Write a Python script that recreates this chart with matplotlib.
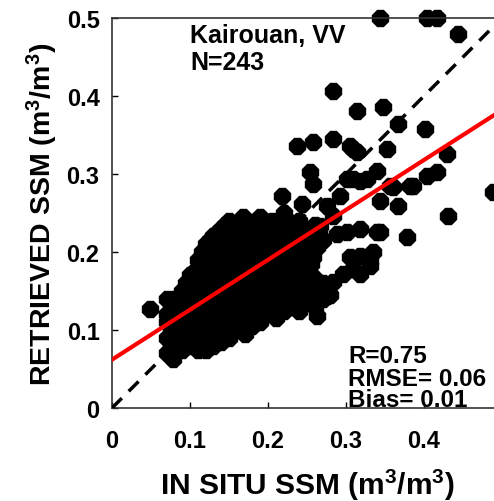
import matplotlib
matplotlib.use("Agg")
import matplotlib.pyplot as plt
import numpy as np

plt.rcParams['font.family'] = ['Liberation Sans', 'DejaVu Sans']
plt.rcParams['font.weight'] = 'bold'
plt.rcParams['mathtext.fontset'] = 'custom'
plt.rcParams['mathtext.rm'] = 'Liberation Sans:bold'
plt.rcParams['mathtext.default'] = 'rm'

# scattered points away from the main cloud (in situ, retrieved)
outer_x = [0.344, 0.404, 0.417, 0.444, 0.283, 0.314, 0.347, 0.367, 0.401,
           0.237, 0.258, 0.283, 0.305, 0.314, 0.353, 0.429, 0.488, 0.309,
           0.254, 0.258, 0.218, 0.244, 0.276, 0.292, 0.309, 0.327, 0.340,
           0.356, 0.386, 0.404, 0.417, 0.344, 0.367, 0.431, 0.378, 0.344,
           0.318, 0.301, 0.168, 0.186, 0.219, 0.138, 0.122, 0.267, 0.283,
           0.318, 0.335, 0.049, 0.078, 0.263, 0.276, 0.283, 0.309, 0.331,
           0.224, 0.186, 0.340, 0.331, 0.305, 0.318, 0.296, 0.254, 0.258,
           0.263, 0.288, 0.215, 0.232, 0.318, 0.301, 0.382, 0.360]
outer_y = [0.500, 0.500, 0.500, 0.479, 0.406, 0.381, 0.386, 0.364, 0.358,
           0.336, 0.341, 0.345, 0.336, 0.328, 0.332, 0.326, 0.277, 0.332,
           0.303, 0.287, 0.272, 0.262, 0.259, 0.272, 0.294, 0.294, 0.304,
           0.285, 0.285, 0.297, 0.303, 0.265, 0.259, 0.246, 0.219, 0.226,
           0.229, 0.226, 0.245, 0.238, 0.233, 0.226, 0.208, 0.233, 0.246,
           0.195, 0.200, 0.127, 0.063, 0.118, 0.144, 0.162, 0.178, 0.182,
           0.131, 0.114, 0.226, 0.188, 0.194, 0.172, 0.172, 0.172, 0.194,
           0.206, 0.223, 0.236, 0.236, 0.291, 0.294, 0.285, 0.283]

# main cloud, column by column: in situ value -> retrieved values
cloud = {
    0.070: [0.07, 0.09, 0.11, 0.12, 0.14],
    0.075: [0.08, 0.10, 0.125],
    0.080: [0.08, 0.10, 0.12, 0.13, 0.14],
    0.085: [0.075, 0.095, 0.115, 0.135],
    0.090: [0.075, 0.09, 0.11, 0.13, 0.15],
    0.095: [0.085, 0.105, 0.125, 0.145, 0.16],
    0.100: [0.08, 0.10, 0.12, 0.14, 0.16, 0.17],
    0.105: [0.09, 0.11, 0.13, 0.15, 0.175],
    0.110: [0.075, 0.10, 0.115, 0.13, 0.15, 0.17, 0.19],
    0.115: [0.085, 0.105, 0.125, 0.14, 0.16, 0.18, 0.20],
    0.120: [0.075, 0.09, 0.11, 0.13, 0.14, 0.16, 0.18, 0.20, 0.21],
    0.125: [0.08, 0.10, 0.12, 0.15, 0.17, 0.19, 0.215],
    0.130: [0.08, 0.095, 0.125, 0.145, 0.16, 0.18, 0.195, 0.22],
    0.135: [0.09, 0.105, 0.14, 0.155, 0.175, 0.205, 0.225],
    0.140: [0.085, 0.10, 0.135, 0.15, 0.17, 0.19, 0.21, 0.23],
    0.145: [0.095, 0.115, 0.125, 0.16, 0.185, 0.20, 0.215, 0.235],
    0.150: [0.09, 0.11, 0.13, 0.15, 0.165, 0.18, 0.20, 0.22, 0.24],
    0.155: [0.10, 0.12, 0.14, 0.175, 0.195, 0.23],
    0.160: [0.10, 0.12, 0.14, 0.155, 0.17, 0.19, 0.21, 0.225],
    0.165: [0.105, 0.125, 0.145, 0.16, 0.18, 0.20, 0.215, 0.235],
    0.170: [0.095, 0.115, 0.13, 0.15, 0.165, 0.20, 0.22, 0.24],
    0.175: [0.11, 0.135, 0.155, 0.17, 0.185, 0.21, 0.23],
    0.180: [0.105, 0.125, 0.14, 0.16, 0.175, 0.21, 0.23],
    0.185: [0.115, 0.135, 0.15, 0.165, 0.19, 0.215, 0.24],
    0.190: [0.11, 0.13, 0.15, 0.17, 0.18, 0.20, 0.22, 0.245],
    0.195: [0.12, 0.14, 0.16, 0.175, 0.19, 0.21, 0.235],
    0.200: [0.12, 0.135, 0.155, 0.165, 0.185, 0.205, 0.225],
    0.205: [0.125, 0.145, 0.17, 0.19, 0.215, 0.24],
    0.210: [0.115, 0.14, 0.16, 0.175, 0.195, 0.21, 0.235],
    0.215: [0.13, 0.15, 0.17, 0.185, 0.205, 0.225],
    0.220: [0.125, 0.145, 0.165, 0.18, 0.20, 0.22, 0.25],
    0.225: [0.135, 0.155, 0.175, 0.195, 0.215, 0.24],
    0.230: [0.13, 0.15, 0.17, 0.19, 0.21, 0.23],
    0.235: [0.14, 0.16, 0.185, 0.205, 0.225],
    0.240: [0.125, 0.145, 0.16, 0.18, 0.20, 0.22, 0.24],
    0.245: [0.135, 0.155, 0.19, 0.215, 0.23],
    0.250: [0.135, 0.155, 0.175, 0.21, 0.225],
    0.255: [0.145, 0.165, 0.185, 0.22],
    0.260: [0.13, 0.15, 0.165, 0.22, 0.235],
    0.265: [0.14, 0.155, 0.225],
    0.270: [0.14, 0.16, 0.215],
    0.280: [0.145],
}

fit_intercept = 0.062
fit_slope = 0.64

x_ticks = [0, 0.1, 0.2, 0.3, 0.4, 0.5]
y_ticks = [0, 0.1, 0.2, 0.3, 0.4, 0.5]
x_labels = ['0', '0.1', '0.2', '0.3', '0.4', '']
y_labels = ['0', '0.1', '0.2', '0.3', '0.4', '0.5']

insitu = list(outer_x)
retrieved = list(outer_y)
for k, vals in cloud.items():
    for v in vals:
        insitu.append(k)
        retrieved.append(v)

fig = plt.figure(figsize=(4.94, 5.02), dpi=100)
ax = fig.add_axes([112 / 494, 93 / 502, 390 / 494, 390 / 502])

ax.plot(insitu, retrieved, '8', color='black', markersize=12.5,
        clip_on=False, zorder=2)

line_x = np.array([0, 0.5])
ax.plot(line_x, line_x, color='black', lw=2.5, dashes=(4, 2.8), zorder=3)
ax.plot(line_x, fit_intercept + fit_slope * line_x, color='red', lw=3,
        zorder=4)

ax.set_xlim(0, 0.5)
ax.set_ylim(0, 0.5)
ax.set_xticks(x_ticks)
ax.set_yticks(y_ticks)
ax.set_xticklabels(x_labels)
ax.set_yticklabels(y_labels)
ax.tick_params(direction='in', length=4, width=1, labelsize=17)
ax.tick_params(axis='x', pad=15)
ax.tick_params(axis='y', pad=9)
for s in ax.spines.values():
    s.set_linewidth(1.2)
    s.set_color('#333333')

ax.set_xlabel('IN SITU SSM (m$^3$/m$^3$)', fontsize=21.5, fontweight='bold',
              labelpad=11)
ax.set_ylabel('RETRIEVED SSM (m$^3$/m$^3$)', fontsize=20.5, fontweight='bold',
              labelpad=5)

ax.text(0.10, 0.469, 'Kairouan, VV', fontsize=18, fontweight='bold')
ax.text(0.10, 0.435, 'N=243', fontsize=18, fontweight='bold')
ax.text(0.3026, 0.059, 'R=0.75', fontsize=17.5, fontweight='bold')
ax.text(0.3026, 0.029, 'RMSE= 0.06', fontsize=17.5, fontweight='bold')
ax.text(0.3026, 0.003, 'Bias= 0.01', fontsize=17.5, fontweight='bold')

fig.savefig('out.png', dpi=100)
